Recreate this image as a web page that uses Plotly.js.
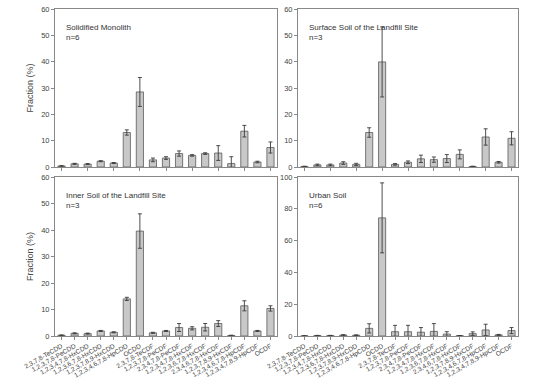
<!DOCTYPE html>
<html><head><meta charset="utf-8">
<script src="https://cdn.plot.ly/plotly-3.0.1.min.js"></script>
<style>html,body{margin:0;padding:0;background:#fff}#c{width:558px;height:378px}</style>
</head><body><div id="c"></div>
<script>
const congeners = ["2,3,7,8-TeCDD","1,2,3,7,8-PeCDD","1,2,3,4,7,8-HxCDD","1,2,3,6,7,8-HxCDD","1,2,3,7,8,9-HxCDD","1,2,3,4,6,7,8-HpCDD","OCDD","2,3,7,8-TeCDF","1,2,3,7,8-PeCDF","2,3,4,7,8-PeCDF","1,2,3,4,7,8-HxCDF","1,2,3,6,7,8-HxCDF","2,3,4,6,7,8-HxCDF","1,2,3,7,8,9-HxCDF","1,2,3,4,6,7,8-HpCDF","1,2,3,4,7,8,9-HpCDF","OCDF"];

const panelTitles = ["Solidified Monolith<br>n=6","Surface Soil of the Landfill Site<br>n=3","Inner Soil of the Landfill Site<br>n=3","Urban Soil<br>n=6"];

const monolith    = [0.4,1.2,1.1,2.2,1.5,13.1,28.5,2.7,3.4,5.1,4.4,5.1,5.3,1.3,13.6,1.9,7.4];
const monolithErr = [0.1,0.2,0.2,0.2,0.2,1.0,5.5,0.7,0.5,1.0,0.3,0.3,2.8,2.6,2.2,0.3,2.1];
const surface     = [0.2,0.8,0.8,1.5,1.0,13.1,39.9,1.0,1.8,3.1,2.8,3.2,4.8,0.2,11.4,1.8,10.9];
const surfaceErr  = [0.1,0.3,0.3,0.5,0.4,1.8,13.3,0.3,0.5,1.4,1.0,1.5,1.7,0.1,3.1,0.3,2.5];
const inner       = [0.3,1.0,0.9,1.9,1.4,14.0,39.6,1.2,1.9,3.2,2.9,3.3,4.7,0.2,11.4,1.9,10.4];
const innerErr    = [0.1,0.2,0.2,0.2,0.2,0.6,6.5,0.2,0.2,1.5,0.6,1.4,1.1,0.1,1.9,0.2,1.0];
const urban       = [0.1,0.3,0.3,0.6,0.5,4.8,74.3,2.7,2.7,2.4,2.9,1.2,0.2,1.5,3.8,0.7,3.4];
const urbanErr    = [0.1,0.1,0.1,0.2,0.2,2.9,22.0,4.0,4.0,2.9,4.9,1.5,0.1,1.1,3.6,0.3,1.9];

const series = [[monolith,monolithErr],[surface,surfaceErr],[inner,innerErr],[urban,urbanErr]];
const yMax = [60,60,60,100];
const yStep = [10,10,10,20];

const W=558,H=378;
const px = [[55,277],[298,518],[55,277],[298,518]];
const py = [[9,167],[9,167],[177,336],[177,336]];

const traces=[], layout={
  width:W,height:H,margin:{l:0,r:0,t:0,b:0},showlegend:false,
  paper_bgcolor:'#fff',plot_bgcolor:'#fff',
  font:{family:'Liberation Sans, Arial, sans-serif',size:7,color:'#333'},
  annotations:[],bargap:0.45
};
series.forEach((s,i)=>{
  const n=i+1, xa='x'+(n===1?'':n), ya='y'+(n===1?'':n);
  traces.push({type:'bar',x:congeners,y:s[0],xaxis:xa,yaxis:ya,
    marker:{color:'#c8c8c8',line:{color:'#5a5a5a',width:0.8}},
    error_y:{type:'data',array:s[1],visible:true,color:'#3a3a3a',thickness:0.9,width:2}});
  const xk='xaxis'+(n===1?'':n), yk='yaxis'+(n===1?'':n);
  layout[xk]={domain:[px[i][0]/W,px[i][1]/W],anchor:ya,type:'category',
    showline:true,mirror:true,linecolor:'#888',linewidth:1,ticks:'outside',ticklen:3,tickcolor:'#888',
    showticklabels:i>=2,tickangle:-30,tickfont:{size:6.5,color:'#444'},showgrid:false,zeroline:false};
  layout[yk]={domain:[1-py[i][1]/H,1-py[i][0]/H],anchor:xa,range:[0,yMax[i]],dtick:yStep[i],
    showline:true,mirror:true,linecolor:'#888',linewidth:1,ticks:'outside',ticklen:3,tickcolor:'#888',
    tickfont:{size:7.5,color:'#444'},showgrid:false,zeroline:false,
    title: (i%2===0)?{text:'Fraction (%)',font:{size:9,color:'#444'},standoff:6}:{text:''}};
  layout.annotations.push({xref:'paper',yref:'paper',x:(px[i][0]+9)/W,y:1-(py[i][0]+12)/H,
    xanchor:'left',yanchor:'top',align:'left',showarrow:false,text:panelTitles[i],
    font:{size:8,color:'#333'}});
});
Plotly.newPlot('c',traces,layout,{staticPlot:true});
</script></body></html>
